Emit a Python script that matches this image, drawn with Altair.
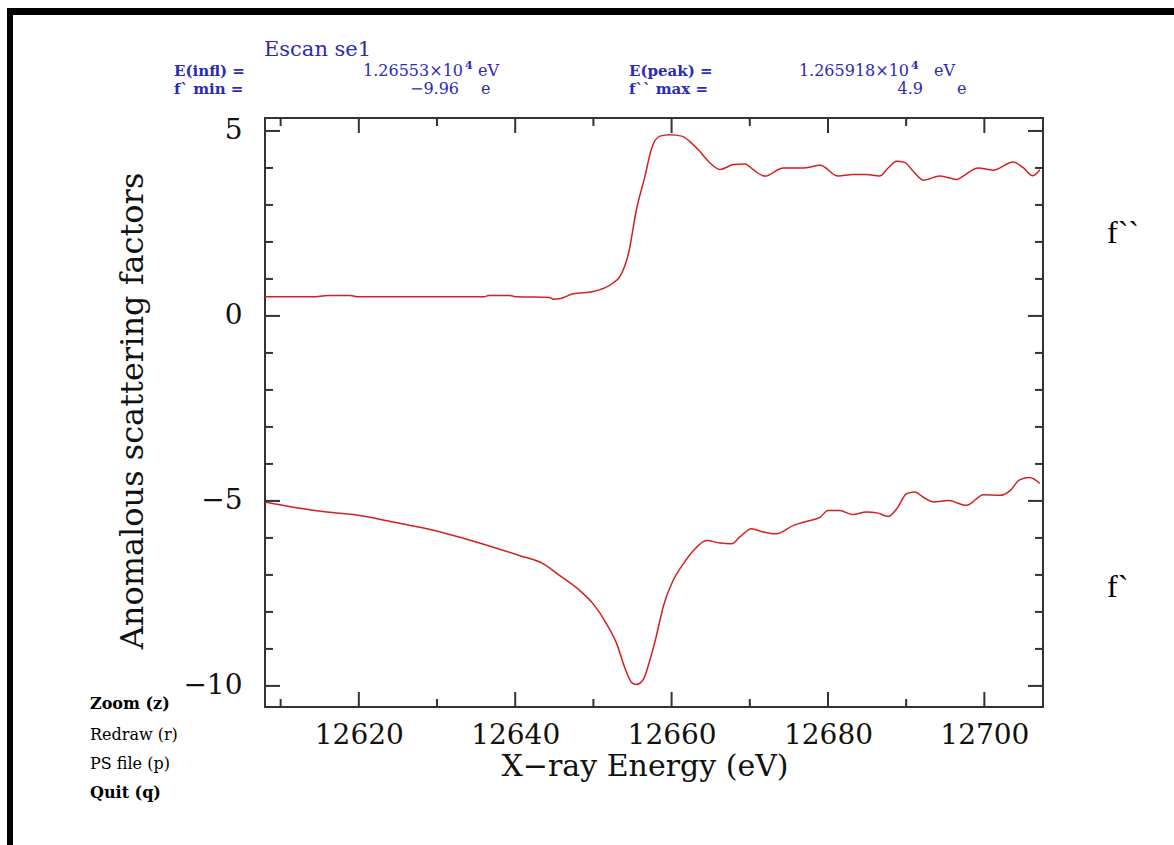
import altair as alt
import pandas as pd

# ---------------- data ----------------
# f'' (upper curve)
fpp_energy = [12608.0, 12614.0, 12616.1, 12618.9, 12620.0, 12636.0, 12636.6, 12639.3, 12640.2,
              12644.4, 12644.9, 12645.8, 12647.4, 12650.0, 12652.5, 12653.4, 12654.5, 12655.5,
              12656.6, 12657.4, 12658.5, 12659.8, 12661.3, 12662.3, 12663.6, 12664.7, 12666.2,
              12667.9, 12669.4, 12670.4, 12671.9, 12674.3, 12676.8, 12679.0, 12681.3, 12683.2,
              12684.9, 12686.6, 12687.7, 12688.8, 12689.8, 12690.9, 12692.2, 12694.3, 12696.5,
              12697.3, 12699.2, 12701.1, 12703.7, 12705.0, 12706.2, 12707.1]
fpp_value = [0.52, 0.52, 0.55, 0.55, 0.52, 0.52, 0.55, 0.55, 0.52,
             0.50, 0.45, 0.47, 0.60, 0.66, 0.89, 1.07, 1.70, 2.87,
             3.78, 4.50, 4.86, 4.90, 4.86, 4.72, 4.45, 4.18, 3.96,
             4.09, 4.11, 3.96, 3.78, 4.00, 4.00, 4.07, 3.78, 3.82,
             3.82, 3.78, 4.00, 4.18, 4.15, 3.91, 3.67, 3.78, 3.69,
             3.78, 4.00, 3.94, 4.16, 4.00, 3.79, 3.95]

# f' (lower curve)
fp_energy = [12608.0, 12611.6, 12615.9, 12619.7, 12624.4, 12628.7, 12632.9, 12637.2, 12640.6,
             12643.6, 12645.7, 12648.3, 12650.0, 12651.7, 12653.0, 12654.0, 12654.9, 12655.5,
             12656.4, 12657.2, 12657.9, 12658.5, 12658.9, 12660.2, 12661.5, 12662.8, 12664.5,
             12666.2, 12667.7, 12668.7, 12670.2, 12671.7, 12673.4, 12675.6, 12677.7, 12679.0,
             12680.0, 12681.5, 12683.2, 12684.9, 12686.4, 12687.7, 12688.8, 12690.1, 12691.1,
             12692.2, 12693.5, 12695.4, 12697.7, 12699.9, 12702.0, 12703.3, 12704.5, 12705.8,
             12707.1]
fp_value = [-5.03, -5.17, -5.30, -5.38, -5.57, -5.75, -5.98, -6.25, -6.48,
            -6.70, -7.02, -7.43, -7.79, -8.33, -8.87, -9.50, -9.91, -9.96,
            -9.82, -9.32, -8.78, -8.24, -7.88, -7.15, -6.70, -6.34, -6.07,
            -6.14, -6.16, -5.98, -5.75, -5.84, -5.89, -5.66, -5.53, -5.44,
            -5.26, -5.26, -5.37, -5.30, -5.33, -5.42, -5.21, -4.80, -4.76,
            -4.90, -5.03, -4.99, -5.12, -4.83, -4.85, -4.72, -4.43, -4.37,
            -4.53]

x_major = [12620, 12640, 12660, 12680, 12700]
x_minor = [12610, 12630, 12650, 12670, 12690]
y_major = [5, 0, -5, -10]
y_minor = [4, 3, 2, 1, -1, -2, -3, -4, -6, -7, -8, -9]

title_text = "Escan se1"
left_labels = ["E(infl) =", "f` min ="]
left_values = ["1.26553×10", "−9.96"]
left_units = ["eV", "e"]
right_labels = ["E(peak) =", "f`` max ="]
right_values = ["1.265918×10", "4.9"]
right_units = ["eV", "e"]
exponent = "4"
menu_items = ["Zoom (z)", "Redraw (r)", "PS file (p)", "Quit (q)"]
curve_names = ["f``", "f`"]
x_title = "X−ray Energy (eV)"
y_title = "Anomalous scattering factors"

# ---------------- layout ----------------
PAGE_W, PAGE_H = 1174, 845
PL, PT = 265, 118
W, H = 778, 589
PR, PB = PAGE_W - PL - W, PAGE_H - PT - H

BLUE = "#2b2bb5"
RED = "#d42020"
AX = "#333333"
SERIF = "DejaVu Serif"

xs = alt.Scale(domain=[12608.0, 12707.5], nice=False, zero=False)
ys = alt.Scale(domain=[-10.57, 5.35], nice=False, zero=False)

xaxis = alt.Axis(title=None, values=x_major, format="d", ticks=False, tickSize=0,
                 domain=False, grid=False, labelFont=SERIF, labelFontSize=28,
                 labelColor="#111111", labelPadding=14, labelFlush=False)
yaxis = alt.Axis(title=None, values=y_major, format="d", ticks=False, tickSize=0,
                 domain=False, grid=False, labelFont=SERIF, labelFontSize=28,
                 labelColor="#111111", labelPadding=23, labelFlush=False)


def X():
    return alt.X("E:Q", scale=xs, axis=xaxis)


def Y():
    return alt.Y("f:Q", scale=ys, axis=yaxis)


curves = pd.DataFrame({
    "E": fpp_energy + fp_energy,
    "f": fpp_value + fp_value,
    "series": ["fpp"] * len(fpp_energy) + ["fp"] * len(fp_energy),
})

lines = alt.Chart(curves).mark_line(color=RED, strokeWidth=1.5, interpolate="monotone").encode(
    x=X(), y=Y(), detail="series:N"
)

# inward tick marks on all four sides
xmaj = pd.DataFrame({"E": x_major})
xmin = pd.DataFrame({"E": x_minor})
ymaj = pd.DataFrame({"f": y_major})
ymin = pd.DataFrame({"f": y_minor})

ticks = []
for df, ln in ((xmaj, 15), (xmin, 8)):
    ticks.append(alt.Chart(df).mark_rule(color=AX, strokeWidth=2).encode(
        x=X(), y=alt.value(H), y2=alt.value(H - ln)))
    ticks.append(alt.Chart(df).mark_rule(color=AX, strokeWidth=2).encode(
        x=X(), y=alt.value(0), y2=alt.value(ln)))
for df, ln in ((ymaj, 15), (ymin, 8)):
    ticks.append(alt.Chart(df).mark_rule(color=AX, strokeWidth=2).encode(
        y=Y(), x=alt.value(0), x2=alt.value(ln)))
    ticks.append(alt.Chart(df).mark_rule(color=AX, strokeWidth=2).encode(
        y=Y(), x=alt.value(W), x2=alt.value(W - ln)))


def label(text, px, py, size, color="#000000", align="left", baseline="alphabetic",
          weight="normal", font=SERIF, angle=0):
    kw = dict(fontSize=size, color=color, align=align, baseline=baseline,
              fontWeight=weight, font=font)
    if angle:
        kw["angle"] = angle
    return alt.Chart(pd.DataFrame({"t": [text]})).mark_text(**kw).encode(
        text="t:N", x=alt.value(px - PL), y=alt.value(py - PT))


texts = []
# header
texts.append(label(title_text, 264, 56, 21, BLUE))
row_y = [76, 94]
left_value_right = [463, 459]
left_unit_x = [478, 481]
right_value_right = [909, 923]
right_unit_x = [934, 957]
for i in range(2):
    texts.append(label(left_labels[i], 174, row_y[i], 15, BLUE, weight="bold"))
    texts.append(label(left_values[i], left_value_right[i], row_y[i], 16, BLUE, align="right"))
    texts.append(label(left_units[i], left_unit_x[i], row_y[i], 16, BLUE))
    texts.append(label(right_labels[i], 629, row_y[i], 15, BLUE, weight="bold"))
    texts.append(label(right_values[i], right_value_right[i], row_y[i], 16, BLUE, align="right"))
    texts.append(label(right_units[i], right_unit_x[i], row_y[i], 16, BLUE))
texts.append(label(exponent, 465, row_y[0] - 7, 11, BLUE, weight="bold"))
texts.append(label(exponent, 911, row_y[0] - 7, 11, BLUE, weight="bold"))

# menu at bottom left
menu_y = [704, 735, 764, 793]
for item, yy in zip(menu_items, menu_y):
    texts.append(label(item, 90, yy, 16, "#000000", baseline="middle",
                       weight="bold" if item.startswith(("Zoom", "Quit")) else "normal"))

# axis titles
texts.append(label(x_title, 645, 767, 30, "#111111", align="center", baseline="middle"))
texts.append(label(y_title, 133, 411, 32, "#111111", align="center", baseline="middle", angle=270))

# curve names on the right
texts.append(label(curve_names[0], 1107, 243, 32, "#000000", font="Liberation Serif"))
texts.append(label(curve_names[1], 1107, 597, 32, "#000000", font="Liberation Serif"))

# window frame (top and left black bars)
frame_df = pd.DataFrame({"k": [0]})
frame = [
    alt.Chart(frame_df).mark_rule(color="#000000", strokeWidth=7).encode(
        x=alt.value(7 - PL), x2=alt.value(PAGE_W - PL), y=alt.value(11.5 - PT)),
    alt.Chart(frame_df).mark_rule(color="#000000", strokeWidth=6).encode(
        x=alt.value(10 - PL), y=alt.value(8 - PT), y2=alt.value(PAGE_H - PT)),
]

chart = alt.layer(lines, *ticks, *texts, *frame).properties(
    width=W, height=H,
    autosize=alt.AutoSizeParams(type="none"),
    padding={"left": PL, "top": PT, "right": PR, "bottom": PB},
    background="white",
).configure_view(stroke=AX, strokeWidth=2)

chart.save("out.html", embed_options={"renderer": "svg", "actions": False})
